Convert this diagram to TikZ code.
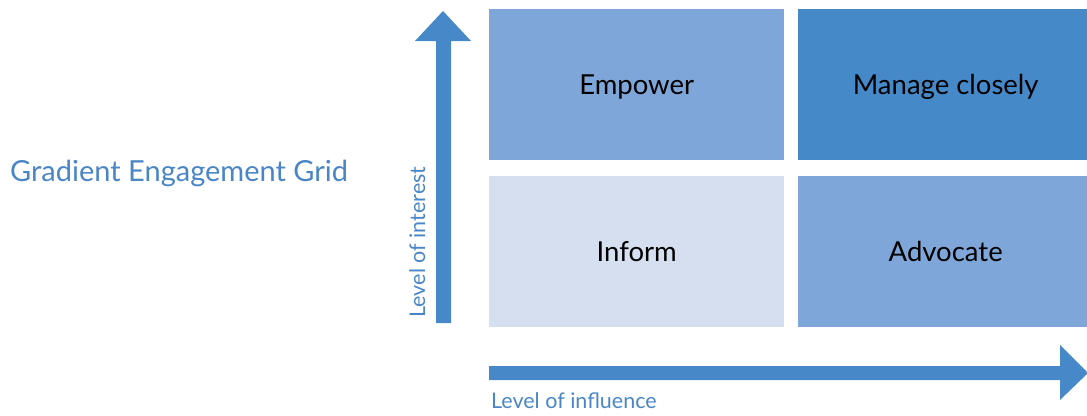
\documentclass[tikz,border=0pt]{standalone}
\usepackage{fontspec}
\setmainfont{Lato}
\usetikzlibrary{positioning}

\definecolor{colfleche}{HTML}{4788C8}
\definecolor{coltitre}{HTML}{4A86C6}
\definecolor{colfonce}{HTML}{4689C8}
\definecolor{colmoyen}{HTML}{7EA6D8}
\definecolor{colclair}{HTML}{D5DFF0}

\begin{document}
\begin{tikzpicture}[x=1pt,y=-1pt,
	case/.style={minimum width=\largeurcase pt, minimum height=\hauteurcase pt, inner sep=0pt,
		text height=20pt, text depth=0.4pt, font=\fontsize{27.5}{30}\selectfont, text=black},
	axe/.style={font=\fontsize{21.5}{24}\selectfont, text=coltitre, inner sep=0pt}]

\useasboundingbox (0,0) rectangle (1087,415);

%Dimensions de la grille
\def \largeurcase{295}
\def \hauteurcase{151}
\def \gauche{489}
\def \droite{798}
\def \haut{9}
\def \bas{176}

%Titre
\node[anchor=base west, inner sep=0pt, text=coltitre, font=\fontsize{29}{32}\selectfont] (titre) at (10,181) {Gradient Engagement Grid};

%Cases
\node[case, fill=colmoyen, anchor=north west] (empower) at (\gauche,\haut) {Empower};
\node[case, fill=colfonce, anchor=north west] (manage) at (\droite,\haut) {Manage closely};
\node[case, fill=colclair, anchor=north west] (inform) at (\gauche,\bas) {Inform};
\node[case, fill=colmoyen, anchor=north west] (advocate) at (\droite,\bas) {Advocate};

%Flèche verticale
\fill[colfleche] (436,323) -- ++(0,-282) -- ++(-21,0) -- (443,11) -- (471,41) -- ++(-20,0) -- ++(0,282) -- cycle;
\node[axe, rotate=90, anchor=base] (interet) at (425,242) {Level of interest};

%Flèche horizontale
\fill[colfleche] (\gauche,366) -- ++(571,0) -- ++(0,-21) -- (1088,373) -- (1060,400) -- ++(0,-20) -- ++(-571,0) -- cycle;
\node[axe, anchor=base west] (influence) at (491,408) {Level of influence};

\end{tikzpicture}
\end{document}
